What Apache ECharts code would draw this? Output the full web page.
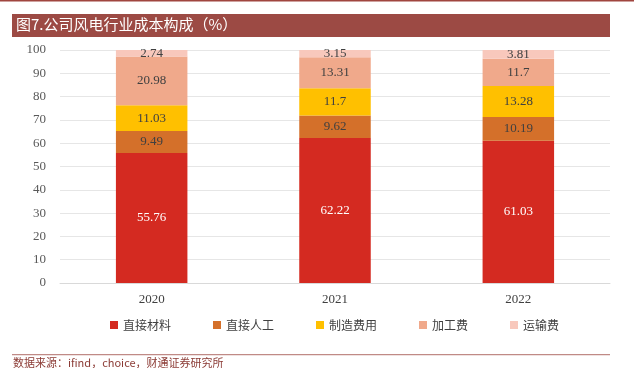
<!DOCTYPE html>
<html><head><meta charset="utf-8">
<script src="https://cdn.jsdelivr.net/npm/echarts@6/dist/echarts.min.js"></script>
<style>html,body{margin:0;padding:0;background:#fff}#c{width:634px;height:368px}</style>
</head><body><div id="c"></div>
<script>
const categories = ['2020', '2021', '2022'];
const seriesNames = ['直接材料', '直接人工', '制造费用', '加工费', '运输费'];
const directMaterial = [55.76, 62.22, 61.03];
const directLabor = [9.49, 9.62, 10.19];
const manufacturing = [11.03, 11.7, 13.28];
const processing = [20.98, 13.31, 11.7];
const transport = [2.74, 3.15, 3.81];
const yTicks = [0, 10, 20, 30, 40, 50, 60, 70, 80, 90, 100];

const values = [directMaterial, directLabor, manufacturing, processing, transport];
const colors = ['#d42a21', '#d4702a', '#ffc000', '#f0a98b', '#f8c8bc'];
const labelColors = ['#ffffff', '#404040', '#404040', '#404040', '#404040'];

const chart = echarts.init(document.getElementById('c'));
chart.setOption({
  animation: false,
  textStyle: { fontFamily: 'Liberation Serif' },
  graphic: [
    { type: 'rect', shape: { x: 0, y: 0, width: 634, height: 1.5 }, style: { fill: '#a0453f' } },
    { type: 'rect', shape: { x: 12, y: 14, width: 598, height: 23 }, style: { fill: '#9c4a44' } },
    { type: 'text', left: 16, top: 17, style: { text: '图7.公司风电行业成本构成（%）', fill: '#ffffff', font: '15px "Noto Sans CJK SC"' } },
    { type: 'rect', shape: { x: 12, y: 354, width: 598, height: 1.2 }, style: { fill: '#c08a86' } },
    { type: 'text', left: 13, top: 357, style: { text: '数据来源：ifind，choice，财通证券研究所', fill: '#8b3a34', font: '11px "Noto Sans CJK SC"' } }
  ],
  grid: { left: 60, right: 24, top: 50, bottom: 85 },
  legend: {
    data: seriesNames,
    top: 314,
    left: 105,
    itemWidth: 8, itemHeight: 8, itemGap: 42,
    icon: 'rect',
    textStyle: { fontFamily: 'Noto Sans CJK SC', fontSize: 12, color: '#404040' }
  },
  xAxis: {
    type: 'category',
    data: categories,
    axisLine: { lineStyle: { color: '#d9d9d9' } },
    axisTick: { show: false },
    axisLabel: { color: '#404040', fontSize: 13, margin: 10 }
  },
  yAxis: {
    type: 'value',
    min: yTicks[0], max: yTicks[yTicks.length - 1], interval: 10,
    axisLine: { show: false },
    axisTick: { show: false },
    splitLine: { lineStyle: { color: '#e6e6e6' } },
    axisLabel: { color: '#595959', fontSize: 13, margin: 14 }
  },
  series: seriesNames.map((name, i) => ({
    name,
    type: 'bar',
    stack: 'total',
    barWidth: '39%',
    data: values[i],
    itemStyle: { color: colors[i] },
    label: {
      show: true,
      position: 'inside',
      color: labelColors[i],
      fontSize: 13,
      fontFamily: 'Liberation Serif'
    }
  }))
});
</script></body></html>
